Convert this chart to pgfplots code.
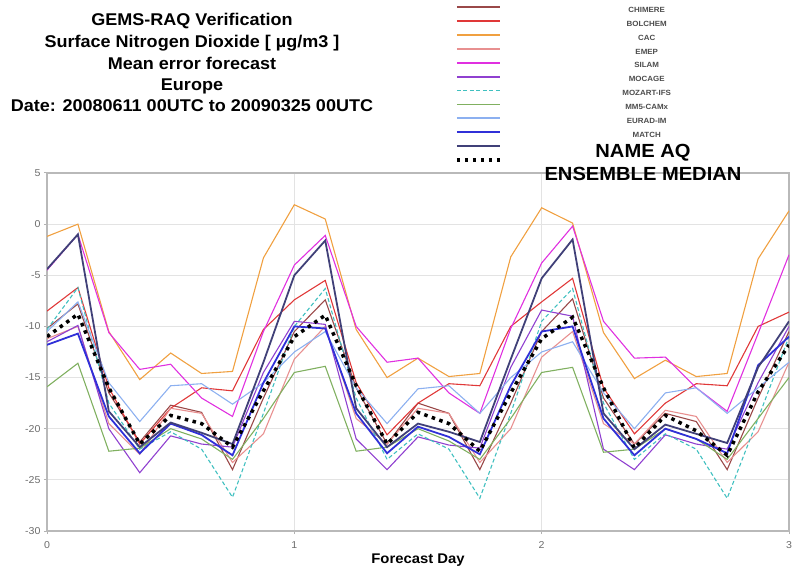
\documentclass[border=0pt]{standalone}
\usepackage{pgfplots}
\pgfplotsset{compat=1.18}
\usepackage{pgfplotstable}
\usepackage{fontspec}
\setmainfont{Liberation Sans}[FakeStretch=1.06]

\definecolor{cChim}{HTML}{9A4848}
\definecolor{cBolc}{HTML}{E03838}
\definecolor{cCac}{HTML}{F0A040}
\definecolor{cEmep}{HTML}{E89090}
\definecolor{cSilam}{HTML}{E030E0}
\definecolor{cMoc}{HTML}{9040D0}
\definecolor{cMoz}{HTML}{40C0C0}
\definecolor{cMm5}{HTML}{80B060}
\definecolor{cEur}{HTML}{8CB0F0}
\definecolor{cMatch}{HTML}{3030D8}
\definecolor{cName}{HTML}{404078}

\pgfplotsset{medlegend/.style={legend image code/.code={\draw[##1] (0bp,3bp) -- (43bp,3bp);}}}

\pgfplotstableread{
x      chim  bolc  cac   emep  silam moc   moz   mm5   eur   match name  med
0.000 -10.2 -8.5  -1.2  -11.2 -4.5  -11.5 -10.3 -15.9 -10.5 -11.8 -4.4  -11.0
0.125 -7.8  -6.2   0.0  -10.0 -1.0  -9.9  -6.2  -13.6 -7.6  -10.7 -1.0  -8.8
0.250 -16.5 -16.0 -10.5 -19.5 -10.6 -20.0 -17.5 -22.2 -15.5 -18.8 -18.3 -16.0
0.375 -21.3 -21.5 -15.2 -22.5 -14.2 -24.3 -22.0 -21.9 -19.3 -22.4 -21.8 -21.5
0.500 -17.7 -18.0 -12.6 -18.0 -13.7 -20.7 -20.3 -20.0 -15.8 -19.5 -19.4 -18.7
0.625 -18.4 -16.0 -14.6 -18.5 -17.0 -21.5 -22.0 -21.0 -15.6 -20.6 -20.4 -19.5
0.750 -24.0 -16.3 -14.4 -23.3 -18.8 -21.8 -26.7 -23.0 -17.6 -22.6 -21.5 -21.8
0.875 -17.0 -10.3 -3.3  -20.5 -10.5 -14.5 -18.5 -19.0 -15.5 -15.5 -13.5 -16.3
1.000 -10.5 -7.4   1.9  -13.2 -4.0  -9.5  -10.0 -14.5 -12.5 -10.0 -5.0  -11.0
1.125 -7.4  -5.5   0.5  -10.0 -1.1  -9.8  -6.3  -13.9 -10.5 -10.2 -1.6  -8.9
1.250 -16.0 -15.5 -10.3 -19.0 -10.0 -21.0 -17.0 -22.2 -16.0 -18.5 -18.0 -15.8
1.375 -21.5 -20.6 -15.0 -21.5 -13.5 -24.0 -23.0 -21.8 -19.5 -22.4 -21.8 -21.5
1.500 -17.5 -17.5 -13.1 -18.0 -13.1 -20.8 -20.5 -20.0 -16.1 -19.8 -19.5 -18.4
1.625 -18.5 -15.6 -14.9 -18.5 -16.5 -21.6 -22.0 -21.2 -15.8 -20.8 -20.3 -19.5
1.750 -24.0 -15.8 -14.6 -23.3 -18.5 -21.9 -26.8 -23.0 -18.5 -22.5 -21.3 -22.2
1.875 -17.5 -10.0 -3.2  -20.0 -10.2 -14.0 -18.5 -19.0 -15.0 -15.8 -13.2 -16.5
2.000 -10.5 -7.6   1.6  -13.0 -3.8  -8.4  -9.5  -14.5 -12.5 -10.5 -5.3  -11.2
2.125 -7.3  -5.3   0.1  -10.5 -0.2  -9.0  -6.3  -14.0 -11.5 -10.0 -1.5  -9.1
2.250 -17.0 -16.0 -10.6 -19.5 -9.5  -22.0 -17.5 -22.3 -16.5 -19.0 -18.5 -16.0
2.375 -21.5 -20.5 -15.1 -21.5 -13.1 -24.0 -23.0 -22.0 -20.0 -22.6 -22.0 -21.9
2.500 -18.5 -17.5 -13.3 -18.2 -13.0 -20.6 -20.5 -20.0 -16.5 -20.0 -19.6 -18.7
2.625 -19.3 -15.6 -14.9 -18.8 -16.0 -21.5 -22.0 -21.0 -16.0 -21.0 -20.5 -20.2
2.750 -24.0 -15.8 -14.6 -23.3 -18.3 -22.0 -26.8 -23.0 -18.5 -22.4 -21.4 -22.6
2.875 -17.0 -10.0 -3.4  -20.3 -10.7 -15.5 -19.0 -19.0 -16.0 -13.8 -14.0 -16.4
3.000 -10.5 -8.6   1.3  -13.5 -3.0  -10.0 -11.0 -15.0 -13.5 -11.0 -9.5  -11.8
}\datatable

\newcommand{\legtxt}[1]{\makebox[290bp][c]{#1}}

\begin{document}
\begin{tikzpicture}
\useasboundingbox (0bp,0bp) rectangle (798bp,569bp);
\begin{axis}[
  at={(47bp,38bp)}, anchor=south west,
  scale only axis, width=742bp, height=358bp,
  xmin=0, xmax=3, ymin=-30, ymax=5,
  xtick={0,1,2,3}, ytick={-30,-25,-20,-15,-10,-5,0,5},
  grid=major, grid style={draw=gray!22, line width=0.9pt},
  axis line style={draw=gray!55, line width=1.6pt},
  tick align=outside, major tick length=3bp,
  tick style={draw=gray!60, line width=1pt},
  xtick pos=bottom, ytick pos=left,
  /pgf/number format/assume math mode=true,
  ticklabel style={font=\fontsize{10bp}{12bp}\selectfont, text=gray!85!black},
  xticklabel style={yshift=-4bp},
  xlabel={\bfseries Forecast Day},
  xlabel style={font=\fontsize{14bp}{16bp}\selectfont, yshift=1.5bp},
  legend image code/.code={\draw[#1, line width=1.7pt] (0bp,3bp) -- (43bp,3bp);},
  legend style={at={(axis description cs:0.5499,1.4743)}, anchor=north west,
    draw=none, fill=none, inner sep=0pt, row sep=0pt, column sep=0pt,
    font=\fontsize{7.5bp}{9bp}\selectfont\bfseries, text=black!70,
    nodes={inner sep=0pt, text height=9bp, text depth=4.87bp}},
  legend cell align=left,
  every axis plot/.append style={line width=1.1pt},
]
\addplot[cChim] table[x=x,y=chim]{\datatable}; \addlegendentry{\legtxt{CHIMERE}}
\addplot[cBolc] table[x=x,y=bolc]{\datatable}; \addlegendentry{\legtxt{BOLCHEM}}
\addplot[cCac] table[x=x,y=cac]{\datatable}; \addlegendentry{\legtxt{CAC}}
\addplot[cEmep] table[x=x,y=emep]{\datatable}; \addlegendentry{\legtxt{EMEP}}
\addplot[cSilam] table[x=x,y=silam]{\datatable}; \addlegendentry{\legtxt{SILAM}}
\addplot[cMoc] table[x=x,y=moc]{\datatable}; \addlegendentry{\legtxt{MOCAGE}}
\addplot[cMoz, dash pattern=on 4pt off 2.5pt] table[x=x,y=moz]{\datatable}; \addlegendentry{\legtxt{MOZART-IFS}}
\addplot[cMm5] table[x=x,y=mm5]{\datatable}; \addlegendentry{\legtxt{MM5-CAMx}}
\addplot[cEur] table[x=x,y=eur]{\datatable}; \addlegendentry{\legtxt{EURAD-IM}}
\addplot[cMatch, line width=1.8pt] table[x=x,y=match]{\datatable}; \addlegendentry{\legtxt{MATCH}}
\addplot[cName, line width=1.8pt] table[x=x,y=name]{\datatable}; \addlegendentry{\legtxt{}}
\addplot[black, line width=3.5pt, dash pattern=on 3.5pt off 4.5pt, medlegend] table[x=x,y=med]{\datatable}; \addlegendentry{\legtxt{}}
\end{axis}
\begin{scope}[font=\fontsize{17bp}{20bp}\selectfont\bfseries]
\node[anchor=base] at (192bp,543bp) {GEMS-RAQ Verification};
\node[anchor=base] at (192bp,521bp) {Surface Nitrogen Dioxide [ µg/m3 ]};
\node[anchor=base] at (192bp,499bp) {Mean error forecast};
\node[anchor=base] at (192bp,478bp) {Europe};
\node[anchor=base] at (192bp,457bp) {Date: 20080611 00UTC to 20090325 00UTC};
\end{scope}
\begin{scope}[font=\fontsize{19bp}{22bp}\selectfont\bfseries]
\node[anchor=base] at (643bp,411bp) {NAME AQ};
\node[anchor=base] at (643bp,388bp) {ENSEMBLE MEDIAN};
\end{scope}
\end{tikzpicture}
\end{document}
